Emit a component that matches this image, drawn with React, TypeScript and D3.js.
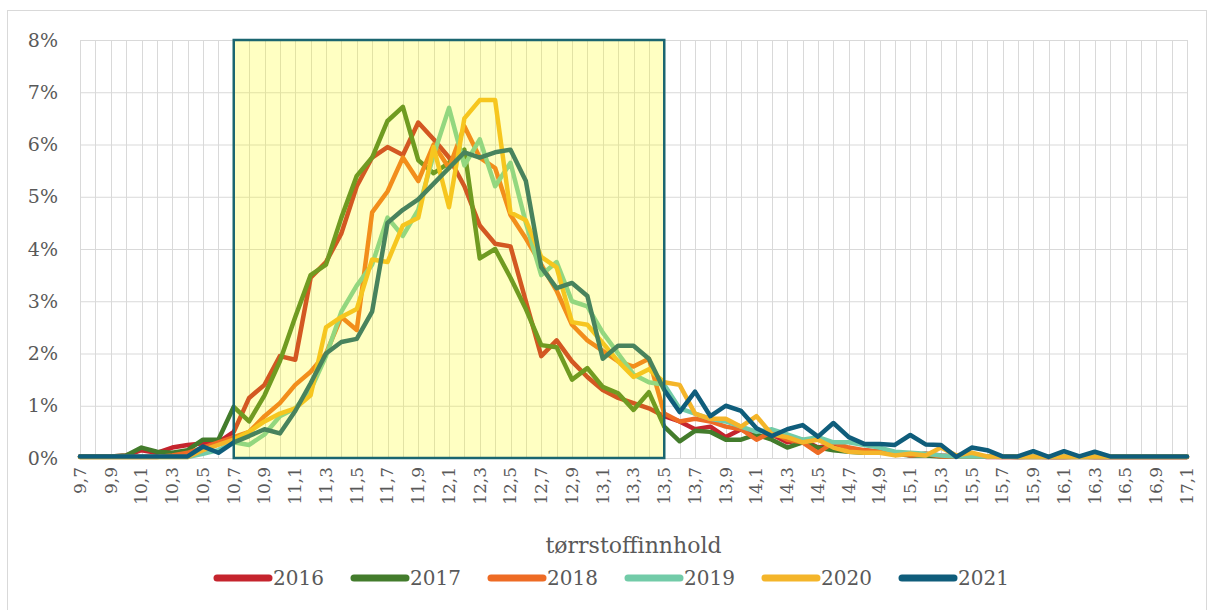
import * as d3 from 'd3';
import React, { useEffect, useRef } from 'react';

const categories = [
  '9,7', '9,8', '9,9', '10,0', '10,1', '10,2', '10,3', '10,4', '10,5', '10,6',
  '10,7', '10,8', '10,9', '11,0', '11,1', '11,2', '11,3', '11,4', '11,5', '11,6',
  '11,7', '11,8', '11,9', '12,0', '12,1', '12,2', '12,3', '12,4', '12,5', '12,6',
  '12,7', '12,8', '12,9', '13,0', '13,1', '13,2', '13,3', '13,4', '13,5', '13,6',
  '13,7', '13,8', '13,9', '14,0', '14,1', '14,2', '14,3', '14,4', '14,5', '14,6',
  '14,7', '14,8', '14,9', '15,0', '15,1', '15,2', '15,3', '15,4', '15,5', '15,6',
  '15,7', '15,8', '15,9', '16,0', '16,1', '16,2', '16,3', '16,4', '16,5', '16,7',
  '16,9', '17,0', '17,1',
];

// values in percent
const s2016 = [
  0.03, 0.03, 0.03, 0.05, 0.15, 0.1, 0.2, 0.25, 0.28, 0.3,
  0.5, 1.15, 1.4, 1.95, 1.88, 3.45, 3.75, 4.3, 5.2, 5.75,
  5.95, 5.8, 6.42, 6.1, 5.75, 5.2, 4.45, 4.1, 4.05, 3.0,
  1.95, 2.25, 1.85, 1.55, 1.3, 1.15, 1.05, 0.95, 0.8, 0.7,
  0.55, 0.6, 0.4, 0.55, 0.4, 0.45, 0.3, 0.35, 0.2, 0.25,
  0.15, 0.15, 0.12, 0.1, 0.05, 0.08, 0.05, 0.03, 0.05, 0.02,
  0.02, 0.02, 0.03, 0.02, 0.02, 0.03, 0.02, 0.02, 0.02, 0.02,
  0.02, 0.02, 0.02,
];
const s2017 = [
  0.03, 0.03, 0.03, 0.05, 0.2, 0.12, 0.1, 0.15, 0.35, 0.35,
  0.98, 0.7, 1.2, 1.85, 2.7, 3.5, 3.7, 4.6, 5.4, 5.75,
  6.45, 6.72, 5.7, 5.45, 5.65, 5.9, 3.82, 4.0, 3.45, 2.85,
  2.16, 2.12, 1.5, 1.72, 1.36, 1.24, 0.92, 1.26, 0.6, 0.32,
  0.52, 0.5, 0.35, 0.35, 0.45, 0.35, 0.2, 0.3, 0.2, 0.15,
  0.12, 0.1, 0.12, 0.08, 0.05, 0.05, 0.03, 0.03, 0.03, 0.03,
  0.03, 0.02, 0.02, 0.02, 0.02, 0.02, 0.02, 0.02, 0.02, 0.02,
  0.02, 0.02, 0.02,
];
const s2018 = [
  0.02, 0.02, 0.02, 0.02, 0.02, 0.02, 0.05, 0.1, 0.2, 0.3,
  0.4, 0.5, 0.8, 1.05, 1.4, 1.65, 2.0, 2.7, 2.45, 4.7,
  5.1, 5.75, 5.3, 6.0, 5.55, 6.35, 5.75, 5.55, 4.65, 4.2,
  3.7, 3.2, 2.55, 2.25, 2.05, 1.85, 1.75, 1.9, 0.85, 0.7,
  0.75, 0.7, 0.6, 0.55, 0.35, 0.5, 0.35, 0.3, 0.1, 0.3,
  0.2, 0.15, 0.12, 0.1, 0.05, 0.08, 0.03, 0.03, 0.03, 0.03,
  0.02, 0.02, 0.02, 0.02, 0.02, 0.02, 0.02, 0.02, 0.02, 0.02,
  0.02, 0.02, 0.02,
];
const s2019 = [
  0.02, 0.02, 0.02, 0.02, 0.02, 0.02, 0.02, 0.02, 0.08, 0.15,
  0.3, 0.25, 0.45, 0.8, 0.95, 1.3, 1.95, 2.8, 3.3, 3.7,
  4.6, 4.25, 4.75, 5.8, 6.7, 5.6, 6.1, 5.2, 5.65, 4.5,
  3.5, 3.75, 3.0, 2.9, 2.4, 2.0, 1.6, 1.45, 1.4, 0.95,
  0.85, 0.75, 0.7, 0.6, 0.5, 0.55, 0.45, 0.35, 0.4, 0.3,
  0.3, 0.25, 0.2, 0.12, 0.1, 0.08, 0.05, 0.03, 0.03, 0.03,
  0.03, 0.03, 0.03, 0.03, 0.03, 0.03, 0.03, 0.03, 0.03, 0.03,
  0.03, 0.03, 0.03,
];
const s2020 = [
  0.02, 0.02, 0.02, 0.02, 0.02, 0.02, 0.02, 0.02, 0.15, 0.25,
  0.35, 0.5, 0.7, 0.85, 0.95, 1.2, 2.5, 2.7, 2.85, 3.8,
  3.75, 4.45, 4.6, 5.95, 4.8, 6.5, 6.85, 6.85, 4.7, 4.55,
  3.85, 3.65, 2.6, 2.55, 2.2, 1.85, 1.55, 1.7, 1.45, 1.4,
  0.85, 0.75, 0.75, 0.6, 0.8, 0.45, 0.4, 0.3, 0.35, 0.2,
  0.12, 0.1, 0.1, 0.05, 0.08, 0.05, 0.2, 0.05, 0.1, 0.03,
  0.03, 0.03, 0.03, 0.03, 0.03, 0.03, 0.03, 0.03, 0.03, 0.03,
  0.03, 0.03, 0.03,
];
const s2021 = [
  0.03, 0.03, 0.03, 0.03, 0.03, 0.03, 0.03, 0.03, 0.22, 0.1,
  0.3, 0.42, 0.55, 0.47, 0.9, 1.43, 2.0, 2.22, 2.28, 2.8,
  4.5, 4.75, 4.95, 5.25, 5.55, 5.85, 5.75, 5.85, 5.9, 5.3,
  3.65, 3.25, 3.35, 3.1, 1.9, 2.15, 2.15, 1.9, 1.3, 0.88,
  1.27, 0.8, 1.0, 0.9, 0.57, 0.42, 0.55, 0.63, 0.41, 0.67,
  0.4, 0.27, 0.27, 0.25, 0.44, 0.26, 0.25, 0.02, 0.2, 0.15,
  0.03, 0.03, 0.13, 0.02, 0.13, 0.03, 0.12, 0.03, 0.03, 0.03,
  0.03, 0.03, 0.03,
];

const seriesNames = ['2016', '2017', '2018', '2019', '2020', '2021'];
const seriesValues = [s2016, s2017, s2018, s2019, s2020, s2021];
const seriesColors = ['#c5242d', '#437c2c', '#ee6b24', '#72cba8', '#f4b52a', '#0f5d7b'];

const yTicks = [0, 1, 2, 3, 4, 5, 6, 7, 8];
const bandStart = '10,7';
const bandEnd = '13,5';

const FONT = '"DejaVu Serif", Georgia, serif';
const TEXT = '#595959';

const App: React.FC = () => {
  const ref = useRef<SVGSVGElement | null>(null);

  useEffect(() => {
    const svg = d3.select(ref.current);
    svg.selectAll('*').remove();

    const left = 80, right = 1187, top = 40, bottom = 458;
    const x = d3.scalePoint<string>().domain(categories).range([left, right]);
    const y = d3.scaleLinear().domain([0, 8]).range([bottom, top]);

    // chart frame
    svg.append('rect')
      .attr('x', 7.5).attr('y', 10.5).attr('width', 1199).attr('height', 620)
      .attr('fill', '#fff').attr('stroke', '#d9d9d9');

    // grid
    const grid = svg.append('g').attr('stroke', '#d9d9d9').attr('stroke-width', 1);
    grid.selectAll('line.h').data(yTicks).enter().append('line')
      .attr('x1', left).attr('x2', right)
      .attr('y1', d => y(d) + 0.5).attr('y2', d => y(d) + 0.5);
    grid.selectAll('line.v').data(categories).enter().append('line')
      .attr('x1', d => Math.round(x(d) ?? 0) + 0.5).attr('x2', d => Math.round(x(d) ?? 0) + 0.5)
      .attr('y1', top).attr('y2', bottom);

    // y labels
    svg.append('g').selectAll('text').data(yTicks).enter().append('text')
      .attr('x', 58).attr('y', d => y(d))
      .attr('dy', '0.35em').attr('text-anchor', 'end')
      .attr('font-family', FONT).attr('font-size', 19).attr('fill', TEXT)
      .text(d => `${d}%`);

    // x labels, every other category
    svg.append('g').selectAll('text')
      .data(categories.filter((_, i) => i % 2 === 0)).enter().append('text')
      .attr('transform', d => `translate(${x(d)},467) rotate(-90)`)
      .attr('dy', '0.35em').attr('text-anchor', 'end')
      .attr('font-family', FONT).attr('font-size', 17).attr('fill', TEXT)
      .text(d => d);

    // lines
    const line = d3.line<number>()
      .x((_, i) => x(categories[i]) ?? 0)
      .y(d => y(d));
    seriesValues.forEach((vals, k) => {
      svg.append('path')
        .datum(vals)
        .attr('d', line)
        .attr('fill', 'none')
        .attr('stroke', seriesColors[k])
        .attr('stroke-width', 4.5)
        .attr('stroke-linejoin', 'round')
        .attr('stroke-linecap', 'round');
    });

    // highlighted band, semi-transparent yellow over lines
    const bx0 = x(bandStart) ?? 0;
    const bx1 = x(bandEnd) ?? 0;
    svg.append('rect')
      .attr('x', bx0).attr('y', top).attr('width', bx1 - bx0).attr('height', bottom - top)
      .attr('fill', '#ffff00').attr('fill-opacity', 0.24)
      .attr('stroke', '#1b6670').attr('stroke-width', 2.5);

    // axis title
    svg.append('text')
      .attr('x', (left + right) / 2).attr('y', 553)
      .attr('text-anchor', 'middle')
      .attr('font-family', FONT).attr('font-size', 22).attr('fill', TEXT)
      .text('tørrstoffinnhold');

    // legend
    const lg = svg.append('g');
    seriesNames.forEach((name, k) => {
      const lx = 217 + k * 137;
      lg.append('line')
        .attr('x1', lx).attr('x2', lx + 52).attr('y1', 578).attr('y2', 578)
        .attr('stroke', seriesColors[k]).attr('stroke-width', 7).attr('stroke-linecap', 'round');
      lg.append('text')
        .attr('x', lx + 56).attr('y', 578).attr('dy', '0.35em')
        .attr('font-family', FONT).attr('font-size', 20).attr('fill', TEXT)
        .text(name);
    });
  }, []);

  return (
    <svg ref={ref} width={1212} height={610}
      style={{ position: 'absolute', left: 0, top: 0, background: '#fff' }} />
  );
};

export default App;
